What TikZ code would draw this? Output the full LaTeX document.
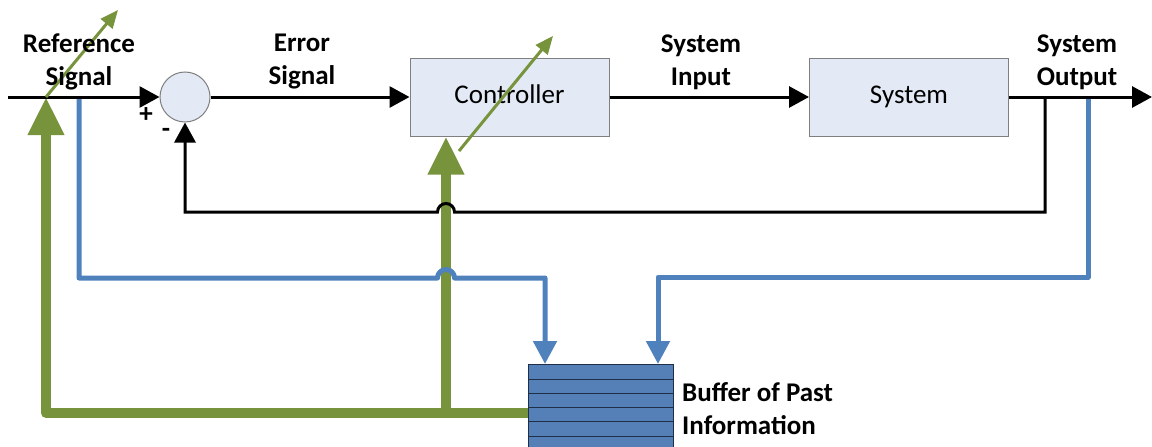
\documentclass[tikz,border=0pt]{standalone}
\usepackage{fontspec}
\setmainfont{Carlito}
\usetikzlibrary{arrows.meta}
\definecolor{boxfill}{HTML}{E3EAF5}
\definecolor{boxline}{HTML}{7F7F7F}
\definecolor{olive}{HTML}{77933C}
\definecolor{steel}{HTML}{4F81BD}
\definecolor{bufblue}{HTML}{5580B7}
\definecolor{bufline}{HTML}{1F2F48}
\begin{document}
\begin{tikzpicture}[x=1pt,y=-1pt,
  block/.style={draw=boxline, line width=1pt, fill=boxfill, minimum width=199pt,
    minimum height=78pt, inner sep=0pt, text height=19pt, text depth=6pt,
    font=\fontsize{27}{33}\selectfont},
  sumnode/.style={circle, draw=boxline, line width=1pt, fill=boxfill,
    minimum size=50pt, inner sep=0pt},
  lbl/.style={font=\bfseries\fontsize{27}{33}\selectfont, align=center, inner sep=0pt},
  signtext/.style={font=\bfseries\fontsize{27}{28}\selectfont, inner sep=0pt},
  sig/.style={line width=3pt, -{Triangle[length=20pt,width=21pt]}},
  fb/.style={line width=5pt, draw=steel, line join=round,
    -{Triangle[length=23pt,width=23pt]}},
  adapt/.style={line width=10pt, draw=olive, line join=round,
    -{Triangle[length=38pt,width=34pt]}},
  tune/.style={line width=3pt, draw=olive, -{Triangle[length=18pt,width=15pt]}},
  bufbox/.style={draw=bufline, line width=1pt, fill=bufblue, minimum width=145pt,
    minimum height=88pt, inner sep=0pt}]

\clip (0,0) rectangle (1152,447);

% blocks
\node[sumnode] (sum) at (185,97) {};
\node[block] (ctrl) at (509.5,97) {Controller};
\node[block] (sys) at (909,97) {System};
\node[bufbox] (buf) at (600.5,408) {};
\foreach \y in {379,393.3,407.6,421.9,436.2,450.5}
  \draw[bufline, line width=1pt] (528,\y) -- (673,\y);

% named points on the wires
\coordinate (rin) at (8,97);
\coordinate (yout) at (1152,97);
\coordinate (ytap) at (1045,97);
\coordinate (rtap) at (79,97);
\coordinate (otap) at (1088,97);
\coordinate (gj) at (446,413);
\coordinate (bufinL) at (545,364);
\coordinate (bufinR) at (658,364);
\coordinate (rgain) at (46,97);

% adaptation paths from the buffer
\draw[adapt] (buf.west |- gj) -- (46,413) -- (rgain);
\draw[adapt] (gj) -- (gj |- ctrl.south);

% samples fed into the buffer
\draw[fb] (rtap) -- (79,278) -- (437.5,278)
  arc[start angle=180, end angle=0, radius=8.5pt] -- (545,278) -- (bufinL);
\draw[fb] (otap) -- (1088,277) -- (658,277) -- (bufinR);

% main loop
\draw[sig] (rin) -- (sum.west);
\draw[sig] (sum.east) -- (ctrl.west);
\draw[sig] (ctrl.east) -- (sys.west);
\draw[sig] (sys.east) -- (yout);
\draw[sig] (ytap) -- (1045,212) -- (454.5,212)
  arc[start angle=0, end angle=180, radius=8.5pt] -- (185,212) -- (sum.south);

% tunable elements
\coordinate (rtune) at (118,10);
\coordinate (cfrom) at (459,151);
\coordinate (cto) at (553,36);
\draw[tune] (rgain) -- (rtune);
\draw[tune] (cfrom) -- (cto);

% labels
\node[lbl] (lref) at (79,62) {Reference\\Signal};
\node[lbl] (lerr) at (302,62) {Error\\Signal};
\node[lbl] (lin) at (701,62) {System\\Input};
\node[lbl] (lout) at (1077,62) {System\\Output};
\node[lbl, align=left, anchor=west] (lbuf) at (682,409) {Buffer of Past\\Information};
\node[signtext] (plus) at (146,115) {+};
\node[signtext] (minus) at (166,133) {-};
\end{tikzpicture}
\end{document}
